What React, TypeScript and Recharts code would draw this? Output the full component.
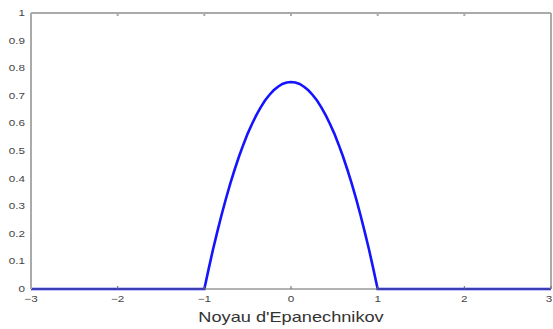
import React from "react";
import { LineChart, Line, XAxis, YAxis } from "recharts";

// Noyau d'Epanechnikov, values
const xs = [
  -3, -1, -0.95, -0.9, -0.85, -0.8, -0.75, -0.7, -0.65, -0.6, -0.55, -0.5, -0.45, -0.4, -0.35, -0.3, -0.25, -0.2, -0.15, -0.1, -0.05,
  0, 0.05, 0.1, 0.15, 0.2, 0.25, 0.3, 0.35, 0.4, 0.45, 0.5, 0.55, 0.6, 0.65, 0.7, 0.75, 0.8, 0.85, 0.9, 0.95, 1, 3,
];
const ys = [
  0, 0, 0.073, 0.143, 0.208, 0.27, 0.328, 0.383, 0.433, 0.48, 0.523, 0.563, 0.598, 0.63, 0.658, 0.683, 0.703, 0.72, 0.733, 0.743, 0.748,
  0.75, 0.748, 0.743, 0.733, 0.72, 0.703, 0.683, 0.658, 0.63, 0.598, 0.563, 0.523, 0.48, 0.433, 0.383, 0.328, 0.27, 0.208, 0.143, 0.073, 0, 0,
];
const xTicks = [-3, -2, -1, 0, 1, 2, 3];
const yTicks = [0, 0.1, 0.2, 0.3, 0.4, 0.5, 0.6, 0.7, 0.8, 0.9, 1];
const xTitle = "Noyau d'Epanechnikov";

const data = xs.map((x, i) => ({ x, y: ys[i] }));

const FONT = "'Liberation Sans', Arial, sans-serif";
const STRETCH = 1.3; // the reference text is wider than normal
const fmtX = (v: number) => (v < 0 ? `\u2212${Math.abs(v)}` : `${v}`);
const fmtY = (v: number) => `${Math.round(v * 10) / 10}`;
const blank = () => "";

const XTick = (props: any) => {
  const { x, y, payload } = props;
  return (
    <text
      transform={`translate(${x},${y}) scale(${STRETCH},1)`}
      textAnchor="middle"
      dominantBaseline="hanging"
      fontSize={9}
      fontFamily={FONT}
      fill="#444"
    >
      {fmtX(payload.value)}
    </text>
  );
};

const YTick = (props: any) => {
  const { x, y, payload } = props;
  return (
    <text
      transform={`translate(${x},${y}) scale(${STRETCH},1)`}
      textAnchor="end"
      dominantBaseline="central"
      fontSize={9}
      fontFamily={FONT}
      fill="#444"
    >
      {fmtY(payload.value)}
    </text>
  );
};

const XTitle = (props: any) => {
  const { viewBox } = props;
  const cx = viewBox.x + viewBox.width / 2;
  return (
    <text
      transform={`translate(${cx},${viewBox.y + 33}) scale(${STRETCH},1)`}
      textAnchor="middle"
      fontSize={14}
      fontFamily={FONT}
      fill="#333"
    >
      {xTitle}
    </text>
  );
};

export default function App() {
  return (
    <div style={{ position: "absolute", left: 0, top: 0, width: 553, height: 329, background: "#fff" }}>
      <LineChart width={553} height={329} data={data} margin={{ top: 13, right: 2, left: 0, bottom: 0 }}>
        {/* frame + inward ticks on top and right */}
        <XAxis
          xAxisId="top"
          orientation="top"
          dataKey="x"
          type="number"
          domain={[-3, 3]}
          ticks={xTicks}
          mirror
          tickSize={3}
          tickFormatter={blank}
          stroke="#aaa"
          strokeWidth={2}
        />
        <YAxis
          yAxisId="right"
          orientation="right"
          type="number"
          domain={[0, 1]}
          ticks={yTicks}
          mirror
          tickSize={3}
          tickFormatter={blank}
          stroke="#aaa"
          strokeWidth={2}
        />
        {/* inward tick marks on left/bottom */}
        <XAxis
          xAxisId="bottomTicks"
          dataKey="x"
          type="number"
          domain={[-3, 3]}
          ticks={xTicks}
          mirror
          tickSize={3}
          tickFormatter={blank}
          stroke="#666"
        />
        <YAxis
          yAxisId="leftTicks"
          type="number"
          domain={[0, 1]}
          ticks={yTicks}
          mirror
          tickSize={3}
          tickFormatter={blank}
          stroke="#aaa"
          strokeWidth={2}
        />
        {/* label axes */}
        <XAxis
          dataKey="x"
          type="number"
          domain={[-3, 3]}
          ticks={xTicks}
          tickLine={false}
          axisLine={false}
          tickSize={0}
          tickMargin={7}
          height={40}
          tick={<XTick />}
          label={<XTitle />}
        />
        <YAxis
          type="number"
          domain={[0, 1]}
          ticks={yTicks}
          tickLine={false}
          axisLine={false}
          tickSize={0}
          tickMargin={6}
          width={31}
          tick={<YTick />}
        />
        <Line
          dataKey="y"
          type="linear"
          stroke="#1414ff"
          strokeWidth={2.6}
          dot={false}
          isAnimationActive={false}
        />
      </LineChart>
    </div>
  );
}
